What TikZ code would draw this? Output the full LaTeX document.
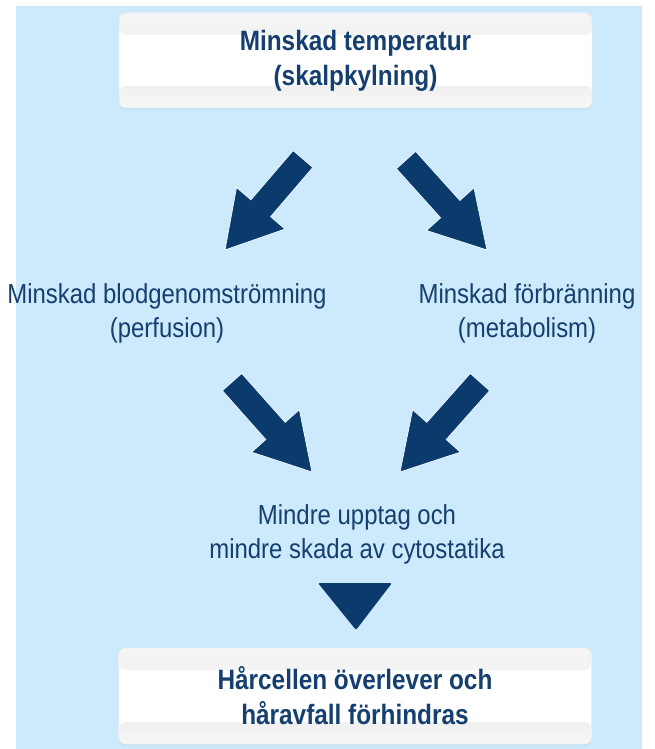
\documentclass[tikz,border=0pt]{standalone}
\usepackage{fontspec}
\setmainfont{Liberation Sans}
\newfontfamily\narrowfont[FakeStretch=0.87]{Liberation Sans}
\newfontfamily\narrowbold[FakeStretch=0.87]{Liberation Sans Bold}
\usetikzlibrary{calc,shadows}
\definecolor{bgblue}{HTML}{CCEAFB}
\definecolor{navy}{HTML}{0B3A6C}
\definecolor{txt}{HTML}{143F6F}
\tikzset{
  panel/.style={rounded corners=7pt, draw=black!10, fill=white,
    minimum width=473pt, minimum height=93pt, inner sep=0pt, align=center,
    font=\narrowbold\fontsize{28}{35}\selectfont, text=txt,
    drop shadow={shadow xshift=0pt, shadow yshift=-1.5pt, opacity=0.10},
    path picture={
      \fill[top color=black!4,bottom color=black!8] (path picture bounding box.north west) rectangle ([yshift=-22pt]path picture bounding box.north east);
      \fill[top color=black!6,bottom color=black!3] ([yshift=22pt]path picture bounding box.south west) rectangle (path picture bounding box.south east);
    }},
  lbl/.style={inner sep=0pt, align=center, text=txt, font=\narrowfont\fontsize{27.5}{34}\selectfont},
  arrowfill/.style={fill=navy, draw=white!65!bgblue, line width=0.8pt, line join=miter},
}
\newcommand\blockarrow[2]{%
  \coordinate (#1-h) at ($(#2)!55pt!(#1)$);
  \filldraw[arrowfill] ($(#1)!13pt!90:(#2)$) -- ($(#1-h)!13pt!90:(#2)$) -- ($(#1-h)!32pt!90:(#2)$) -- (#2)
    -- ($(#1-h)!32pt!-90:(#2)$) -- ($(#1-h)!13pt!-90:(#2)$) -- ($(#1)!13pt!-90:(#2)$) -- cycle;}
\begin{document}
\begin{tikzpicture}[x=1pt,y=-1pt]
\useasboundingbox (0,0) rectangle (654,749);
\fill[white] (0,0) rectangle (654,749);
\fill[bgblue] (16,6) rectangle (642,749);

\node[panel, minimum height=95pt] (top) at (355.5,60.5) {Minskad temperatur\\(skalpkylning)};
\node[panel, minimum height=96pt] (bot) at (355,696) {Hårcellen överlever och\\håravfall förhindras};

\node[lbl] (perf) at (167,313) {Minskad blodgenomströmning\\(perfusion)};
\node[lbl] (meta) at (527,313) {Minskad förbränning\\(metabolism)};
\node[lbl] (mid) at (357,534) {Mindre upptag och\\mindre skada av cytostatika};

\coordinate (a1) at (303,159); \coordinate (b1) at (225,250);
\coordinate (a2) at (406,160); \coordinate (b2) at (487,250);
\coordinate (a3) at (232,382); \coordinate (b3) at (312,472);
\coordinate (a4) at (480,382); \coordinate (b4) at (400,472);
\blockarrow{a1}{b1}
\blockarrow{a2}{b2}
\blockarrow{a3}{b3}
\blockarrow{a4}{b4}

\coordinate (t1) at (318,583); \coordinate (t2) at (392,583); \coordinate (t3) at (356,630);
\fill[navy, rounded corners=2pt] (t1) -- (t2) -- (t3) -- cycle;
\end{tikzpicture}
\end{document}
